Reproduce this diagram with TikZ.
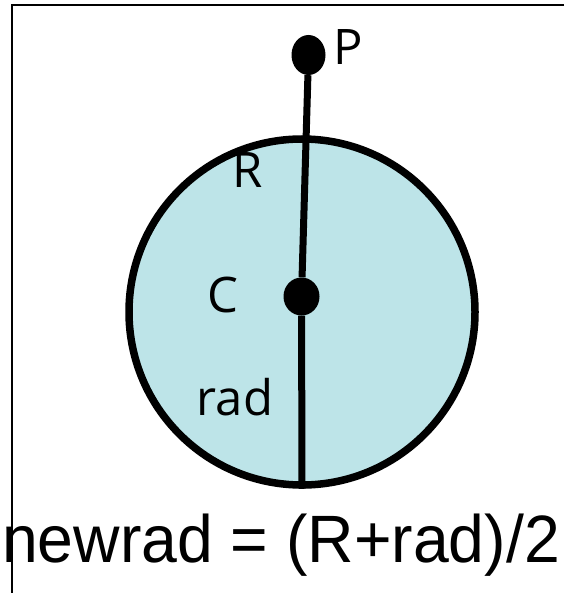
\documentclass[tikz,border=0pt]{standalone}
\usepackage{fontspec}
\setmainfont{Open Sans}
\newfontfamily\formulafont{Liberation Sans}
\usetikzlibrary{shapes.geometric}
\definecolor{circfill}{RGB}{189,228,232}

\begin{document}
\begin{tikzpicture}[x=1pt, y=-1pt,
    dot/.style={ellipse, fill, inner sep=0pt},
    lbl/.style={anchor=base, inner sep=0pt, font=\fontsize{49}{55}\selectfont}]
      \useasboundingbox (0,0) rectangle (564,593);
      \draw[line width=2pt] (564,5) -- (12,5) -- (12,593);
      \node[circle, draw, line width=7.5pt, fill=circfill, minimum size=346pt, inner sep=0pt] (circ) at (302,312) {};
      \node[dot, minimum width=34pt, minimum height=40pt] (p) at (308.5,55) {};
      \node[dot, minimum width=36pt, minimum height=38pt] (c) at (301.5,296.5) {};
      \draw[line width=7pt] (p) -- (c);
      \draw[line width=7pt] (c) -- (circ.south);
      \node[lbl, anchor=base west] (plbl) at (333,65) {P};
      \node[lbl] (rlbl) at (248,188) {R};
      \node[lbl] (clbl) at (223,312) {C};
      \node[lbl] (radlbl) at (235,415) {rad};
      \node[anchor=base west, inner sep=0pt, xscale=0.96, transform shape,
            font=\formulafont\fontsize{67}{75}\selectfont] (formula) at (2,562) {newrad = (R+rad)/2};
    \end{tikzpicture}
\end{document}
